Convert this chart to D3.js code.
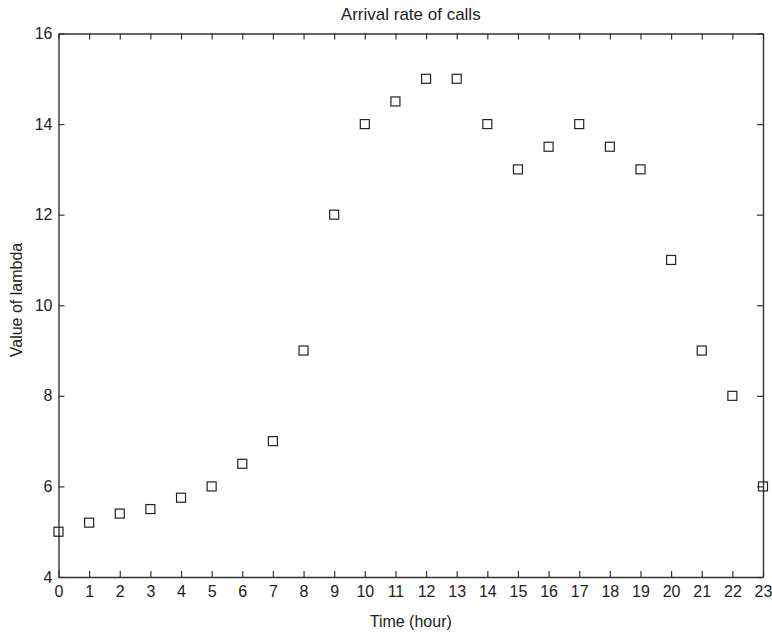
<!DOCTYPE html>
<html>
<head>
<meta charset="utf-8">
<script src="https://cdn.jsdelivr.net/npm/d3@7"></script>
<style>
  body { margin: 0; background: #fff; }
  svg text { font-family: "Liberation Sans", Arial, Helvetica, sans-serif; fill: #222; }
</style>
</head>
<body>
<svg id="chart" width="772" height="632"></svg>
<script>
// hours of the day and the arrival rate
const hours = d3.range(0, 24);
const lambda = [5, 5.2, 5.4, 5.5, 5.75, 6, 6.5, 7, 9, 12, 14, 14.5, 15, 15, 14, 13, 13.5, 14, 13.5, 13, 11, 9, 8, 6];
const yTicks = [4, 6, 8, 10, 12, 14, 16];

const svg = d3.select('#chart');
const margin = {top: 33.5, right: 9, bottom: 55, left: 58.5};
const width = 772 - margin.left - margin.right;
const height = 632 - margin.top - margin.bottom;

const chart = svg.append('g')
  .attr('transform', `translate(${margin.left}, ${margin.top})`);

const xScale = d3.scaleLinear().domain([0, 23]).range([0, width]);
const yScale = d3.scaleLinear().domain([4, 16]).range([height, 0]);

const axisColor = '#333';
const tickLen = 6;

// bottom axis with labels, ticks pointing in
const xAxis = chart.append('g')
  .attr('transform', `translate(0, ${height})`)
  .call(d3.axisBottom(xScale).tickValues(hours).tickSize(-tickLen).tickPadding(9).tickSizeOuter(0));
// top axis, ticks only
const xTop = chart.append('g')
  .call(d3.axisTop(xScale).tickValues(hours).tickSize(-tickLen).tickFormat('').tickSizeOuter(0));
// left axis
const yAxis = chart.append('g')
  .call(d3.axisLeft(yScale).tickValues(yTicks).tickSize(-tickLen).tickPadding(6).tickSizeOuter(0));
// right axis, ticks only
const yRight = chart.append('g')
  .attr('transform', `translate(${width}, 0)`)
  .call(d3.axisRight(yScale).tickValues(yTicks).tickSize(-tickLen).tickFormat('').tickSizeOuter(0));

[xAxis, xTop, yAxis, yRight].forEach(g => {
  g.selectAll('path.domain').attr('stroke', axisColor).attr('stroke-width', 1.4);
  g.selectAll('.tick line').attr('stroke', axisColor).attr('stroke-width', 1.2);
  g.selectAll('.tick text').attr('font-size', 16).attr('fill', '#222')
    .attr('font-family', '"Liberation Sans", Arial, sans-serif');
});

// square markers
const side = 9;
chart.selectAll('rect.pt')
  .data(hours)
  .enter()
  .append('rect')
  .attr('class', 'pt')
  .attr('x', (h) => xScale(h) - side / 2)
  .attr('y', (h, i) => yScale(lambda[i]) - side / 2)
  .attr('width', side)
  .attr('height', side)
  .attr('fill', 'none')
  .attr('stroke', '#222')
  .attr('stroke-width', 1.2);

// titles
svg.append('text')
  .attr('x', margin.left + width / 2)
  .attr('y', 20)
  .attr('text-anchor', 'middle')
  .attr('font-size', 17)
  .text('Arrival rate of calls');

svg.append('text')
  .attr('x', margin.left + width / 2)
  .attr('y', 627)
  .attr('text-anchor', 'middle')
  .attr('font-size', 16)
  .text('Time (hour)');

svg.append('text')
  .attr('transform', `translate(22, 300) rotate(-90)`)
  .attr('text-anchor', 'middle')
  .attr('font-size', 16)
  .text('Value of lambda');
</script>
</body>
</html>
